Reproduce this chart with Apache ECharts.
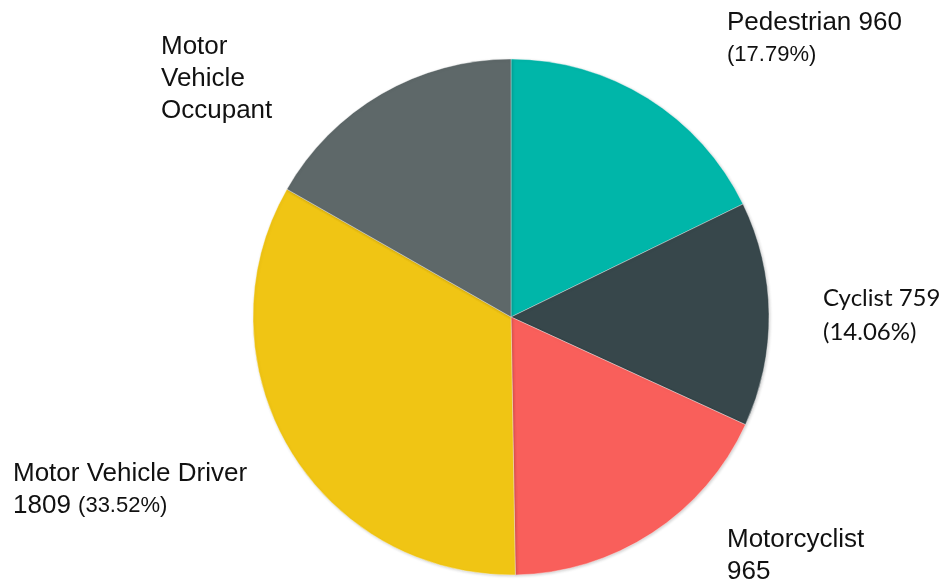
<!DOCTYPE html>
<html>
<head>
<meta charset="utf-8">
<script src="https://cdn.jsdelivr.net/npm/echarts@6/dist/echarts.min.js"></script>
<style>
html,body{margin:0;padding:0;background:#fff;}
#chart{width:946px;height:586px;}
</style>
</head>
<body>
<div id="chart"></div>
<script>
const categories = ['Pedestrian', 'Cyclist', 'Motorcyclist', 'Motor Vehicle Driver', 'Motor Vehicle Occupant'];
const values = [960, 759, 965, 1809, 904];
const colors = ['#00B6A9', '#37474B', '#F95F5B', '#F0C514', '#5E6869'];

const total = values.reduce((a, b) => a + b, 0);
const pct = v => (v / total * 100).toFixed(2) + '%';

// label text per slice (rich text)
const labelTexts = [
  '{a|Pedestrian ' + values[0] + '}\n{p|(' + pct(values[0]) + ')}',
  '{c|Cyclist ' + values[1] + '}\n{c|(' + pct(values[1]) + ')}',
  '{a|Motorcyclist}\n{a|' + values[2] + '}',
  '{a|Motor Vehicle Driver}\n{a|' + values[3] + '}{a| }{p|(' + pct(values[3]) + ')}',
  '{a|Motor}\n{a|Vehicle}\n{a|Occupant}'
];
// label anchor (top-left) positions
const labelAnchors = [[727, 7], [823, 281], [727, 524], [13, 458], [161, 31]];

const chart = echarts.init(document.getElementById('chart'), null, {renderer: 'canvas'});
chart.setOption({
  animation: false,
  backgroundColor: '#ffffff',
  series: [{
    type: 'pie',
    center: [511, 317],
    radius: 258,
    startAngle: 90,
    clockwise: true,
    data: categories.map((c, i) => ({
      name: c,
      value: values[i],
      itemStyle: {color: colors[i]},
      label: {formatter: labelTexts[i]}
    })),
    itemStyle: {
      borderColor: 'rgba(255,255,255,0.6)',
      borderWidth: 0.6,
      shadowColor: 'rgba(0,0,0,0.18)',
      shadowBlur: 3,
      shadowOffsetX: 1,
      shadowOffsetY: 1
    },
    label: {
      show: true,
      position: 'outside',
      overflow: 'none',
      bleedMargin: 0,
      edgeDistance: 0,
      color: '#111',
      lineHeight: 32,
      rich: {
        a: {fontFamily: 'Liberation Sans, Arial, sans-serif', fontSize: 26, lineHeight: 32, color: '#111'},
        p: {fontFamily: 'Liberation Sans, Arial, sans-serif', fontSize: 22, lineHeight: 32, color: '#111'},
        c: {fontFamily: 'Lato, sans-serif', fontSize: 24, lineHeight: 34, color: '#111'}
      }
    },
    labelLine: {show: false},
    labelLayout: function (params) {
      const p = labelAnchors[params.dataIndex];
      return {x: p[0], y: p[1], align: 'left', verticalAlign: 'top', moveOverlap: false, hideOverlap: false};
    },
    emphasis: {disabled: true}
  }]
});
</script>
</body>
</html>
